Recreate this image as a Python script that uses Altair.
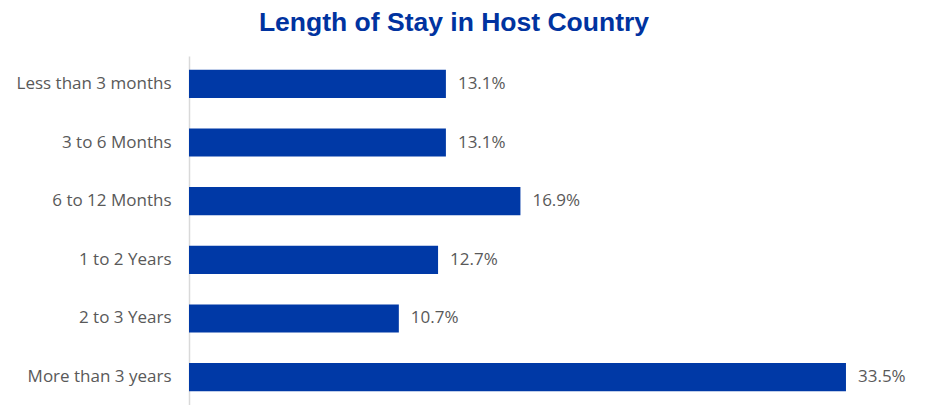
import altair as alt
import pandas as pd

categories = ["Less than 3 months", "3 to 6 Months", "6 to 12 Months",
              "1 to 2 Years", "2 to 3 Years", "More than 3 years"]
values = [13.1, 13.1, 16.9, 12.7, 10.7, 33.5]
labels = ["13.1%", "13.1%", "16.9%", "12.7%", "10.7%", "33.5%"]

df = pd.DataFrame({"cat": categories, "val": values, "lab": labels})

y_enc = alt.Y("cat:N", sort=categories, title=None,
              scale=alt.Scale(paddingInner=0.52, paddingOuter=0.235),
              axis=alt.Axis(ticks=False, labelPadding=18, labelFont="Open Sans",
                            labelFontSize=17, labelColor="#595959",
                            domainColor="#d9d9d9", domainWidth=1.5,
                            labelLimit=300))
x_enc = alt.X("val:Q", title=None, axis=None, scale=alt.Scale(domain=[0, 36]))

bars = alt.Chart(df).mark_bar(color="#0039A6").encode(x=x_enc, y=y_enc)
text = alt.Chart(df).mark_text(align="left", baseline="middle", dx=12,
                               font="Open Sans", fontSize=17, color="#595959").encode(
    x=x_enc, y=y_enc, text="lab:N")

chart = (bars + text).properties(
    width=706, height=349,
    background="white",
    title=alt.TitleParams("Length of Stay in Host Country", font="Liberation Sans",
                          fontSize=26.5, fontWeight="bold", color="#0033A0",
                          anchor="middle", frame="group", offset=20, dx=-88),
    autosize=alt.AutoSizeParams(type="none"),
    padding={"left": 181, "top": 48, "right": 24, "bottom": 0},
).configure_view(strokeWidth=0)

chart.save("out.html", embed_options={"renderer": "svg", "actions": False})
